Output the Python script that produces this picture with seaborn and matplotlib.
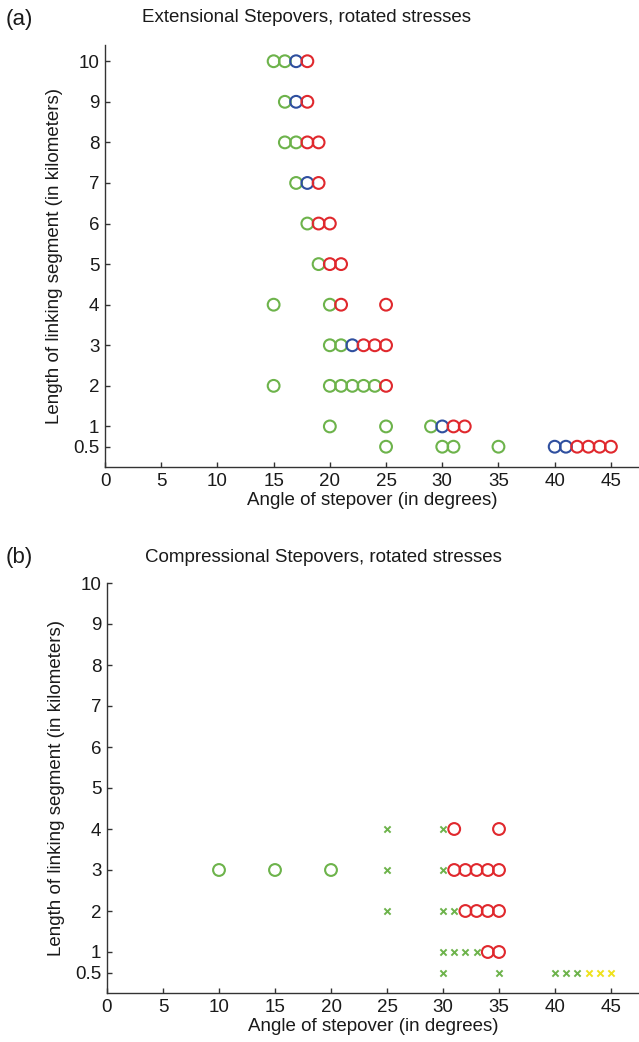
import matplotlib as mpl
import matplotlib.pyplot as plt
import pandas as pd
import seaborn as sns

# Panel (a): extensional stepovers
ext_angle = [15, 16, 17, 18,
             16, 17, 18,
             16, 17, 18, 19,
             17, 18, 19,
             18, 19, 20,
             19, 20, 21,
             15, 20, 21, 25,
             20, 21, 22, 23, 24, 25,
             15, 20, 21, 22, 23, 24, 25,
             20, 25, 29, 30, 31, 32,
             25, 30, 31, 35, 40, 41, 42, 43, 44, 45]
ext_length = [10, 10, 10, 10,
              9, 9, 9,
              8, 8, 8, 8,
              7, 7, 7,
              6, 6, 6,
              5, 5, 5,
              4, 4, 4, 4,
              3, 3, 3, 3, 3, 3,
              2, 2, 2, 2, 2, 2, 2,
              1, 1, 1, 1, 1, 1,
              0.5, 0.5, 0.5, 0.5, 0.5, 0.5, 0.5, 0.5, 0.5, 0.5]
ext_kind = ["green", "green", "blue", "red",
            "green", "blue", "red",
            "green", "green", "red", "red",
            "green", "blue", "red",
            "green", "red", "red",
            "green", "red", "red",
            "green", "green", "red", "red",
            "green", "green", "blue", "red", "red", "red",
            "green", "green", "green", "green", "green", "green", "red",
            "green", "green", "green", "blue", "red", "red",
            "green", "green", "green", "green", "blue", "blue", "red", "red", "red", "red"]

# Panel (b): compressional stepovers
comp_angle = [25, 30, 31, 35,
              10, 15, 20, 25, 30, 31, 32, 33, 34, 35,
              25, 30, 31, 32, 33, 34, 35,
              30, 31, 32, 33, 34, 35,
              30, 35, 40, 41, 42, 43, 44, 45]
comp_length = [4, 4, 4, 4,
               3, 3, 3, 3, 3, 3, 3, 3, 3, 3,
               2, 2, 2, 2, 2, 2, 2,
               1, 1, 1, 1, 1, 1,
               0.5, 0.5, 0.5, 0.5, 0.5, 0.5, 0.5, 0.5]
comp_kind = ["green_x", "green_x", "red", "red",
             "green", "green", "green", "green_x", "green_x", "red", "red", "red", "red", "red",
             "green_x", "green_x", "green_x", "red", "red", "red", "red",
             "green_x", "green_x", "green_x", "green_x", "red", "red",
             "green_x", "green_x", "green_x", "green_x", "green_x", "yellow_x", "yellow_x", "yellow_x"]

Y_TICKS = [0.5, 1, 2, 3, 4, 5, 6, 7, 8, 9, 10]
Y_TICKLABELS = ["0.5", "1", "2", "3", "4", "5", "6", "7", "8", "9", "10"]
X_TICKS = [0, 5, 10, 15, 20, 25, 30, 35, 40, 45]

COLORS = {
    "green": "#6db34b",
    "blue": "#2f4f9f",
    "red": "#e0282d",
    "yellow": "#efe21c",
}
KIND_STYLE = {
    "green": ("green", "o"),
    "blue": ("blue", "o"),
    "red": ("red", "o"),
    "green_x": ("green", "x"),
    "yellow_x": ("yellow", "x"),
}
DRAW_ORDER = ["green", "blue", "red", "green_x", "yellow_x"]

sns.set_style("ticks")
mpl.rcParams.update(
    {
        "font.family": ["Liberation Sans", "DejaVu Sans"],
        "font.size": 13.5,
        "axes.edgecolor": "0.2",
        "axes.linewidth": 1.0,
        "xtick.direction": "in",
        "ytick.direction": "in",
        "xtick.major.size": 3.5,
        "ytick.major.size": 3.5,
        "xtick.major.width": 1.0,
        "ytick.major.width": 1.0,
        "xtick.color": "0.2",
        "ytick.color": "0.2",
        "xtick.labelcolor": "0.1",
        "ytick.labelcolor": "0.1",
        "text.color": "0.1",
        "axes.labelcolor": "0.1",
    }
)


def draw_panel(ax, angle, length, kind, ytop):
    df = pd.DataFrame({"angle": angle, "length": length, "kind": kind})
    for k in DRAW_ORDER:
        sub = df[df["kind"] == k]
        if sub.empty:
            continue
        cname, marker = KIND_STYLE[k]
        col = COLORS[cname]
        if marker == "o":
            sns.scatterplot(data=sub, x="angle", y="length", ax=ax, marker="o",
                            s=72, facecolor="none", edgecolor=col, linewidth=1.5,
                            legend=False, zorder=3)
        else:
            sns.scatterplot(data=sub, x="angle", y="length", ax=ax, marker="x",
                            s=20, color=col, linewidth=1.4, legend=False, zorder=3)
    ax.set_xlim(0, 47.5)
    ax.set_ylim(0, ytop)
    ax.set_xticks(X_TICKS)
    ax.set_yticks(Y_TICKS)
    ax.set_yticklabels(Y_TICKLABELS)
    ax.tick_params(axis="both", labelsize=13.5, pad=4)
    ax.set_xlabel("Angle of stepover (in degrees)", fontsize=13.5, labelpad=2)
    ax.set_ylabel("Length of linking segment (in kilometers)", fontsize=13.5, labelpad=7)
    sns.despine(ax=ax)


W, H = 639, 1042
fig = plt.figure(figsize=(W / 100, H / 100), dpi=100)

ax_a = fig.add_axes([105 / W, 1 - 467 / H, (W - 105) / W, (467 - 45) / H])
draw_panel(ax_a, ext_angle, ext_length, ext_kind, 10.4)

ax_b = fig.add_axes([107 / W, 1 - 993 / H, (W - 107) / W, (993 - 583) / H])
draw_panel(ax_b, comp_angle, comp_length, comp_kind, 10)

fig.text(307 / W, 1 - 17 / H, "Extensional Stepovers, rotated stresses",
         ha="center", va="center", fontsize=13.5)
fig.text(323 / W, 1 - 557 / H, "Compressional Stepovers, rotated stresses",
         ha="center", va="center", fontsize=13.5)
fig.text(6 / W, 1 - 20 / H, "(a)", ha="left", va="center", fontsize=16)
fig.text(6 / W, 1 - 557 / H, "(b)", ha="left", va="center", fontsize=16)

fig.savefig("out.png", dpi=100)
